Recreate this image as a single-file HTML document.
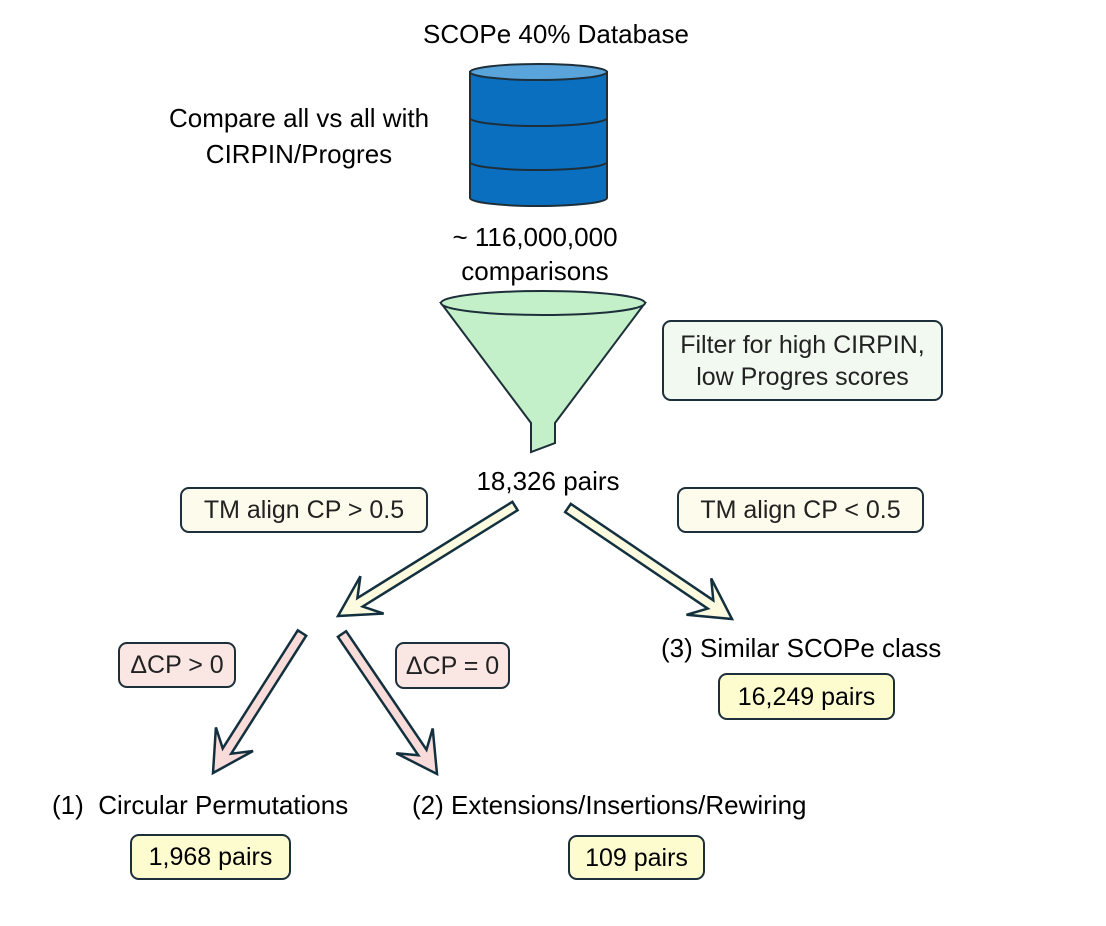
<!DOCTYPE html>
<html><head><meta charset="utf-8"><style>
body{margin:0;background:#fff;width:1106px;height:926px;position:relative;font-family:"Liberation Sans",sans-serif;overflow:hidden}
.t{position:absolute;font-size:26px;color:#000;white-space:nowrap}
.c{transform:translateX(-50%);text-align:center}
.b{position:absolute;border:2px solid #1d2f3a;border-radius:9px;box-sizing:border-box;display:flex;align-items:center;justify-content:center;font-size:25px;color:#222;text-align:center;line-height:32px;white-space:nowrap}
</style></head><body>
<svg width="1106" height="926" style="position:absolute;left:0;top:0">
<g stroke="#1d2f3a" stroke-width="2">
<path d="M470,72 L470,198 A68.5,8 0 0 0 607,198 L607,72 Z" fill="#0a6fbf"/>
<path d="M470,118 A68.5,8 0 0 0 607,118 M470,162 A68.5,8 0 0 0 607,162" fill="none"/>
<ellipse cx="538.5" cy="72" rx="68.5" ry="8" fill="#5aa4dc"/>
<path d="M441,303 L531,423 L531,452 L555,443 L555,423 L645,303 Z" fill="#c3f0c8"/>
<ellipse cx="543" cy="303" rx="102" ry="12" fill="#c3f0c8"/>
</g>
<g id="arrows" stroke="#13303f" stroke-width="2.5" stroke-linejoin="miter"></g>
</svg>
<div class="t c" style="left:556px;top:19px">SCOPe 40% Database</div>
<div class="t c" style="left:299px;top:100px;line-height:36px">Compare all vs all with<br>CIRPIN/Progres</div>
<div class="t c" style="left:535px;top:220px;line-height:34px">~ 116,000,000<br>comparisons</div>
<div class="t c" style="left:548px;top:466px">18,326 pairs</div>
<div class="b" style="left:662px;top:320px;width:281px;height:81px;background:#f1f9f1">Filter for high CIRPIN,<br>low Progres scores</div>
<div class="b" style="left:180px;top:487px;width:248px;height:46px;background:#fdfbeb">TM align CP &gt; 0.5</div>
<div class="b" style="left:677px;top:487px;width:247px;height:46px;background:#fdfbeb">TM align CP &lt; 0.5</div>
<div class="b" style="left:118px;top:642px;width:118px;height:46px;background:#fae6e3">ΔCP &gt; 0</div>
<div class="b" style="left:395px;top:642px;width:115px;height:47px;background:#fae6e3">ΔCP = 0</div>
<div class="t" style="left:661px;top:633px">(3) Similar SCOPe class</div>
<div class="b" style="left:718px;top:673px;width:177px;height:47px;background:#fdfccf;color:#000">16,249 pairs</div>
<div class="t" style="left:52px;top:790px">(1)&nbsp; Circular Permutations</div>
<div class="t" style="left:412px;top:790px">(2) Extensions/Insertions/Rewiring</div>
<div class="b" style="left:130px;top:834px;width:161px;height:46px;background:#fdfccf;color:#000">1,968 pairs</div>
<div class="b" style="left:568px;top:835px;width:137px;height:45px;background:#fdfccf;color:#000">109 pairs</div>
<script>
function arrow(x1,y1,x2,y2,fill){
 var dx=x2-x1,dy=y2-y1,L=Math.hypot(dx,dy),ux=dx/L,uy=dy/L,px=-uy,py=ux;
 var sw=5,hw=22,hl=40,notch=14;
 var bx=x2-ux*hl,by=y2-uy*hl;
 var nx=x2-ux*(hl-notch),ny=y2-uy*(hl-notch);
 var pts=[[x1+px*sw,y1+py*sw],[nx+px*sw,ny+py*sw],[bx+px*hw,by+py*hw],[x2,y2],[bx-px*hw,by-py*hw],[nx-px*sw,ny-py*sw],[x1-px*sw,y1-py*sw]];
 var p=document.createElementNS("http://www.w3.org/2000/svg","polygon");
 p.setAttribute("points",pts.map(function(a){return a[0].toFixed(1)+","+a[1].toFixed(1)}).join(" "));
 p.setAttribute("fill",fill);document.getElementById("arrows").appendChild(p);
}
arrow(515,506,338,616,"#fdfbdf");
arrow(568,508,732,619,"#fdfbdf");
arrow(302,633,213,773,"#f9dcda");
arrow(342,634,437,774,"#f9dcda");
</script>
</body></html>
